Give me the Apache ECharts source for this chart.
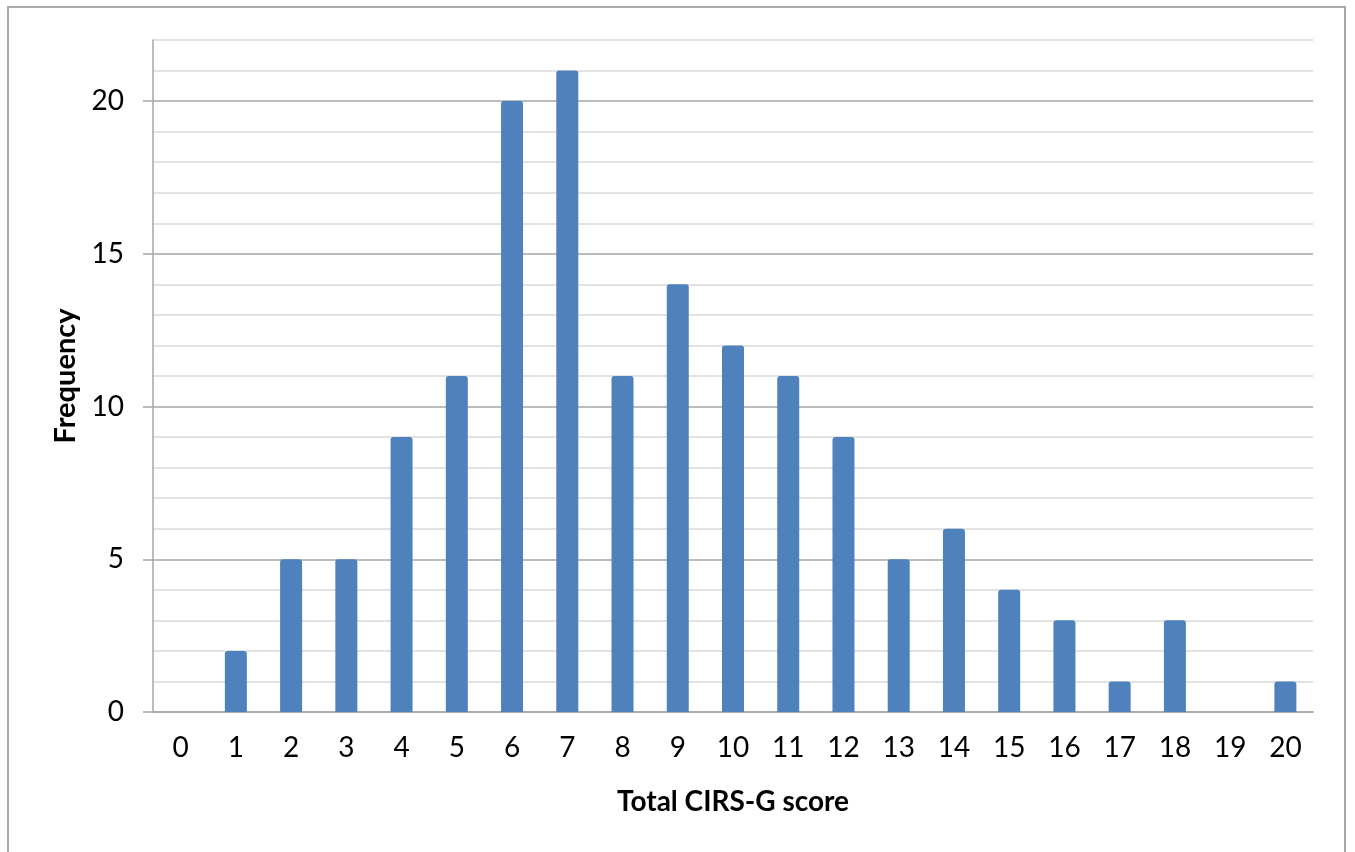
<!DOCTYPE html>
<html>
<head>
<meta charset="utf-8">
<script src="https://cdn.jsdelivr.net/npm/echarts@6/dist/echarts.min.js"></script>
<style>
  html, body { margin: 0; padding: 0; background: #fff; }
  #frame { position: absolute; left: 7px; top: 6px; width: 1339px; height: 860px;
           border: 2px solid #a9a9a9; box-sizing: border-box; }
  #chart { position: absolute; left: 0; top: 0; width: 1355px; height: 852px; }
</style>
</head>
<body>
<div id="frame"></div>
<div id="chart"></div>
<script>
// Total CIRS-G score distribution
const scores = ['0','1','2','3','4','5','6','7','8','9','10','11','12','13','14','15','16','17','18','19','20'];
const frequency = [0, 2, 5, 5, 9, 11, 20, 21, 11, 14, 12, 11, 9, 5, 6, 4, 3, 1, 3, 0, 1];
const yTicks = [0, 5, 10, 15, 20];

const FONT = 'Lato';
const chart = echarts.init(document.getElementById('chart'));
chart.setOption({
  animation: false,
  grid: { left: 153, right: 42, top: 40, bottom: 140 },
  xAxis: {
    type: 'category',
    data: scores,
    name: 'Total CIRS-G score',
    nameLocation: 'middle',
    nameGap: 76,
    nameTextStyle: { fontFamily: FONT, fontWeight: 'bold', fontSize: 28, color: '#000' },
    axisLine: { lineStyle: { color: '#a6a6a6', width: 1.5 } },
    axisTick: { show: false },
    axisLabel: { fontFamily: FONT, fontSize: 28, color: '#000', margin: 22, interval: 0 }
  },
  yAxis: [
    {
      // gridlines at every unit, darker on multiples of five
      type: 'value', min: 0, max: 22, interval: 1,
      axisLine: { show: false },
      axisTick: { show: false },
      axisLabel: { show: false },
      splitLine: { lineStyle: { color: ['#a6a6a6', '#d9d9d9', '#d9d9d9', '#d9d9d9', '#d9d9d9'], width: 1.5 } }
    },
    {
      // visible axis with labelled ticks
      type: 'value', min: 0, max: 22, interval: 1,
      position: 'left',
      name: 'Frequency',
      nameLocation: 'middle',
      nameGap: 72,
      nameRotate: 90,
      nameTextStyle: { fontFamily: FONT, fontWeight: 'bold', fontSize: 29, color: '#000' },
      axisLine: { show: true, lineStyle: { color: '#a6a6a6', width: 1.5 } },
      axisTick: { show: true, length: 10, customValues: yTicks, lineStyle: { color: '#a6a6a6', width: 1.5 } },
      axisLabel: { fontFamily: FONT, fontSize: 28, color: '#000', margin: 29, customValues: yTicks },
      splitLine: { show: false }
    }
  ],
  series: [{
    type: 'bar',
    yAxisIndex: 0,
    data: frequency,
    barWidth: 22,
    itemStyle: {
      color: '#4f81bd',
      borderRadius: [3, 3, 0, 0]
    }
  }]
});
</script>
</body>
</html>
